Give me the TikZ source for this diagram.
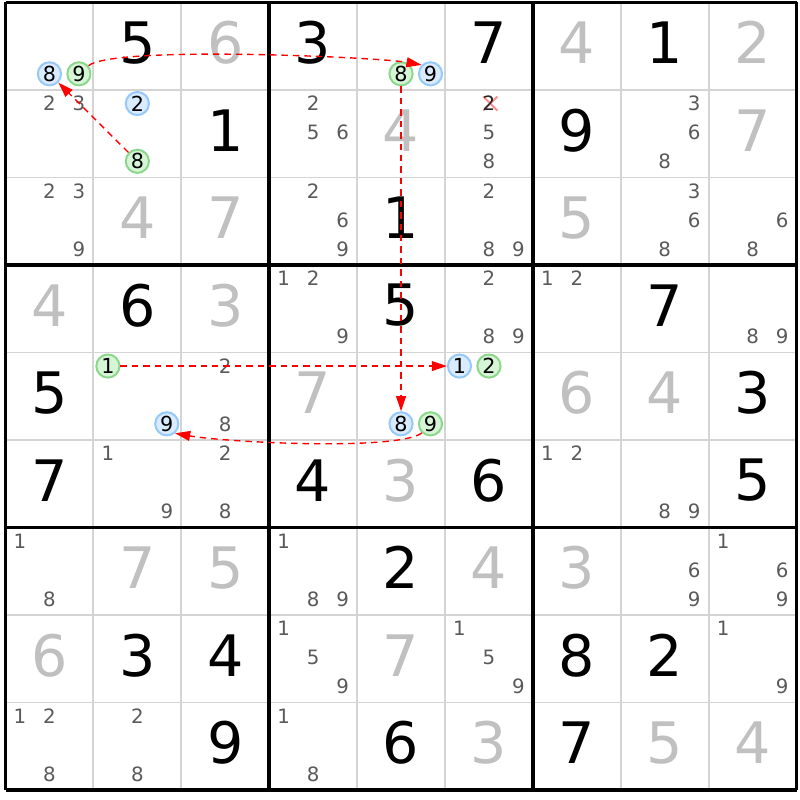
\documentclass[tikz,border=0pt]{standalone}
\usepackage{fontspec}
\setmainfont{DejaVu Sans}
\usepackage{tikz}
\usetikzlibrary{arrows.meta}
\definecolor{solvedgray}{RGB}{192,192,192}
\definecolor{candgray}{RGB}{90,90,90}
\definecolor{gridgray}{RGB}{212,212,212}
\definecolor{bluefill}{RGB}{216,235,255}
\definecolor{bluedraw}{RGB}{150,200,250}
\definecolor{greenfill}{RGB}{214,245,214}
\definecolor{greendraw}{RGB}{140,215,140}
\definecolor{strikered}{RGB}{255,140,140}
\tikzset{
    given/.style={inner sep=0pt, text=black, font=\fontsize{18.5}{20}\selectfont},
    solved/.style={inner sep=0pt, text=solvedgray, font=\fontsize{18.5}{20}\selectfont},
    cand/.style={inner sep=0pt, text=candgray, font=\fontsize{6.4}{7}\selectfont},
    bluecand/.style={circle, draw=bluedraw, fill=bluefill, line width=0.65pt, minimum size=7.5pt, inner sep=0pt, font=\fontsize{6.7}{7}\selectfont},
    greencand/.style={circle, draw=greendraw, fill=greenfill, line width=0.65pt, minimum size=7.5pt, inner sep=0pt, font=\fontsize{6.7}{7}\selectfont},
    cellline/.style={draw=gridgray, line width=0.6pt},
    boxline/.style={draw=black, line width=1.1pt},
    link/.style={->, red, line width=0.45pt, dash pattern=on 2.1pt off 1.6pt},
    strike/.style={draw=strikered, line width=0.65pt},
    >={Triangle[length=4.9pt, width=3.2pt]},
}

\begin{document}
\begin{tikzpicture}[x=1cm, y=0.9955cm]
    \useasboundingbox (-0.0626,-0.1143) rectangle (9.0387,9.0286);
    \fill[white] (-0.0626,-0.1143) rectangle (9.0387,9.0286);
    % grid
    \foreach \i in {1,2,4,5,7,8} {
        \draw[cellline] (\i,0) -- (\i,9);
        \draw[cellline] (0,\i) -- (9,\i);
    }
    \foreach \i in {0,3,6,9} {
        \draw[boxline] (\i,0) -- (\i,9);
        \draw[boxline] (0,\i) -- (9,\i);
    }
    % givens and solved cells
    \foreach \r/\c/\v in {1/2/5, 1/4/3, 1/6/7, 1/8/1, 2/3/1, 2/7/9, 3/5/1, 4/2/6, 4/5/5, 4/8/7,
            5/1/5, 5/9/3, 6/1/7, 6/4/4, 6/6/6, 6/9/5, 7/5/2, 8/2/3, 8/3/4, 8/7/8, 8/8/2,
            9/3/9, 9/5/6, 9/7/7}
        \node[given] (g\r\c) at (\c-0.5,9.54-\r) {\v};
    \foreach \r/\c/\v in {1/3/6, 1/7/4, 1/9/2, 2/5/4, 2/9/7, 3/2/4, 3/3/7, 3/7/5, 4/1/4, 4/3/3,
            5/4/7, 5/7/6, 5/8/4, 6/5/3, 7/2/7, 7/3/5, 7/6/4, 7/7/3, 8/1/6, 8/5/7,
            9/6/3, 9/8/5, 9/9/4}
        \node[solved] (s\r\c) at (\c-0.5,9.54-\r) {\v};
    % candidates
    \foreach \r/\c/\ds in {2/1/{2,3}, 2/4/{2,5,6}, 2/6/{5,8}, 2/8/{3,6,8}, 3/1/{2,3,9},
            3/4/{2,6,9}, 3/6/{2,8,9}, 3/8/{3,6,8}, 3/9/{6,8}, 4/4/{1,2,9}, 4/6/{2,8,9},
            4/7/{1,2}, 4/9/{8,9}, 5/3/{2,8}, 6/2/{1,9}, 6/3/{2,8}, 6/7/{1,2}, 6/8/{8,9},
            7/1/{1,8}, 7/4/{1,8,9}, 7/8/{6,9}, 7/9/{1,6,9}, 8/4/{1,5,9}, 8/6/{1,5,9},
            8/9/{1,9}, 9/1/{1,2,8}, 9/2/{2,8}, 9/4/{1,8}} {
        \foreach \d in \ds {
            \pgfmathsetmacro\cx{\c-1+0.165+0.335*mod(\d-1,3)}
            \pgfmathsetmacro\cy{10-\r-0.155-0.33*int((\d-1)/3)}
            \node[cand] (c\r\c\d) at (\cx,\cy) {\d};
        }
    }
    % eliminated candidate
    \coordinate (x262) at (5.5,7.845);
    \draw[strike] ([shift={(-0.065,-0.08)}]x262) -- ([shift={(0.095,0.08)}]x262);
    \draw[strike] ([shift={(-0.065,0.08)}]x262) -- ([shift={(0.095,-0.08)}]x262);
    \node[cand, text=black!85] (c262) at (x262) {2};
    % chain candidates
    \foreach \r/\c/\d/\st in {1/1/8/bluecand, 1/1/9/greencand, 1/5/8/greencand, 1/5/9/bluecand,
            2/2/2/bluecand, 2/2/8/greencand, 5/2/1/greencand, 5/2/9/bluecand,
            5/5/8/bluecand, 5/5/9/greencand, 5/6/1/bluecand, 5/6/2/greencand} {
        \pgfmathsetmacro\cx{\c-1+0.165+0.335*mod(\d-1,3)}
        \pgfmathsetmacro\cy{10-\r-0.155-0.33*int((\d-1)/3)}
        \node[style=\st] (n\r\c\d) at (\cx,\cy) {\d};
    }
    % links
    \draw[link] (n119.40) to[out=40, in=170, out distance=0.36cm, in distance=0.52cm] (n159.135);
    \draw[link] (n158) -- (n558);
    \draw[link] (n559.227) to[out=215, in=350, out distance=0.36cm, in distance=0.59cm] (n529.311);
    \draw[link] (n521) -- (n561);
    \draw[link] (n228) -- (n118);
\end{tikzpicture}
\end{document}
